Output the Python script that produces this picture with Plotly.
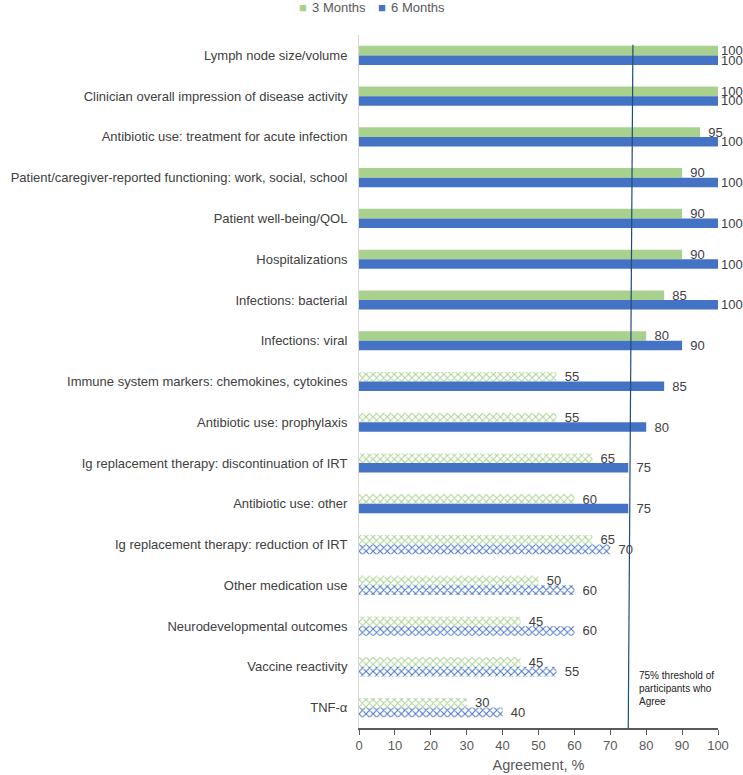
import plotly.graph_objects as go

categories = [
    "Lymph node size/volume",
    "Clinician overall impression of disease activity",
    "Antibiotic use: treatment for acute infection",
    "Patient/caregiver-reported functioning: work, social, school",
    "Patient well-being/QOL",
    "Hospitalizations",
    "Infections: bacterial",
    "Infections: viral",
    "Immune system markers: chemokines, cytokines",
    "Antibiotic use: prophylaxis",
    "Ig replacement therapy: discontinuation of IRT",
    "Antibiotic use: other",
    "Ig replacement therapy: reduction of IRT",
    "Other medication use",
    "Neurodevelopmental outcomes",
    "Vaccine reactivity",
    "TNF-\u03b1",
]
months3 = [100, 100, 95, 90, 90, 90, 85, 80, 55, 55, 65, 60, 65, 50, 45, 45, 30]
months6 = [100, 100, 100, 100, 100, 100, 100, 90, 85, 80, 75, 75, 70, 60, 60, 55, 40]
threshold = 75

GREEN = "#A9D18E"
BLUE = "#4472C4"
TXT = "#404040"
GREY = "#595959"

def pattern(vals):
    return ["x" if v < threshold else "" for v in vals]

def labels(vals):
    return [str(v) if v >= 100 else "\u2009\u2009" + str(v) for v in vals]

fig = go.Figure()
for name, vals, col in [("3 Months", months3, GREEN), ("6 Months", months6, BLUE)]:
    fig.add_trace(go.Bar(
        y=categories, x=vals, name=name, orientation="h", showlegend=False,
        marker=dict(color=col, line=dict(width=0),
                    pattern=dict(shape=pattern(vals), fgcolor=col, bgcolor="white",
                                 size=5, solidity=0.35, fillmode="replace")),
        text=labels(vals), textposition="outside",
        textfont=dict(size=13, color=TXT), constraintext="none", cliponaxis=False,
    ))

fig.add_shape(type="line", xref="x", yref="paper", x0=76.3, x1=75, y0=0.986, y1=0,
              line=dict(color="#1F4E79", width=1.2))
fig.add_annotation(xref="x", yref="paper", x=77.3, y=0.028, xanchor="left", yanchor="bottom",
                   text="75% threshold of<br>participants who<br>Agree", showarrow=False,
                   align="left", font=dict(size=10, color="#222"))

# legend drawn as text
fig.add_annotation(xref="paper", yref="paper", x=-0.174, y=1.04, xanchor="left", yanchor="middle",
                   text=f"<span style='color:{GREEN}'>\u25a0</span>\u2009\u20093 Months", showarrow=False,
                   font=dict(size=13, color=GREY))
fig.add_annotation(xref="paper", yref="paper", x=0.046, y=1.04, xanchor="left", yanchor="middle",
                   text=f"<span style='color:{BLUE}'>\u25a0</span>\u2009\u20096 Months", showarrow=False,
                   font=dict(size=13, color=GREY))

fig.update_layout(
    width=743, height=775, barmode="group", bargap=0.53, bargroupgap=0,
    margin=dict(l=359, r=25, t=35, b=47),
    plot_bgcolor="white", paper_bgcolor="white",
    font=dict(family="Liberation Sans, Arial", size=12, color=TXT),
    showlegend=False,
    xaxis=dict(range=[0, 100], dtick=10, showgrid=False, zeroline=False, automargin=False,
               showline=True, linecolor=GREY, linewidth=1.5,
               ticks="outside", ticklen=5, tickcolor=GREY,
               tickfont=dict(size=13, color=GREY),
               title=dict(text="Agreement, %", font=dict(size=14.5, color=GREY), standoff=8)),
    yaxis=dict(autorange="reversed", showgrid=False, showline=True, linecolor="#D9D9D9",
               linewidth=1, ticks="", automargin=False, ticklabelstandoff=8,
               tickfont=dict(size=13, color=TXT)),
)

fig.write_html("out.html")
